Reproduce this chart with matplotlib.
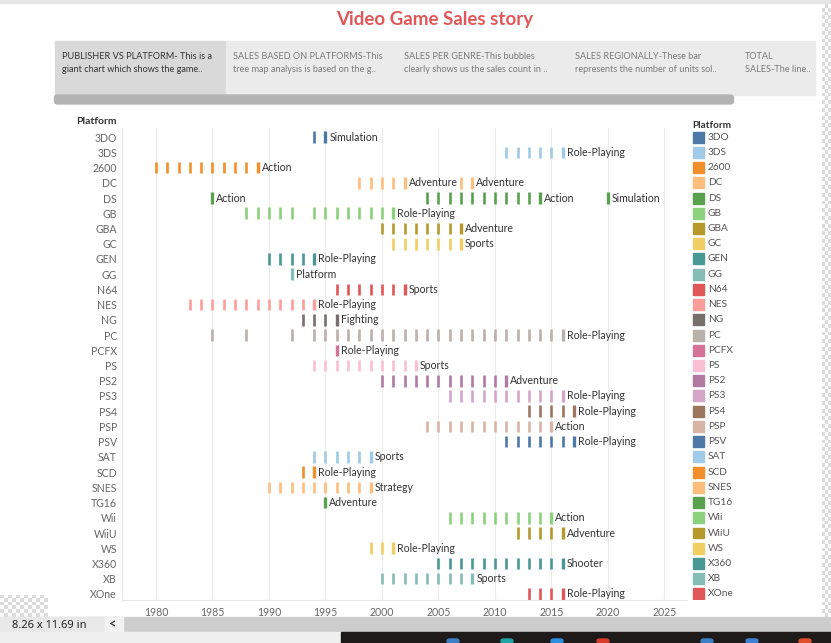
import matplotlib
matplotlib.use('Agg')
import matplotlib.pyplot as plt
from matplotlib.patches import Rectangle, FancyBboxPatch
import numpy as np

plt.rcParams['font.family'] = ['Lato', 'DejaVu Sans']

W, H = 831, 643

platforms = ['3DO', '3DS', '2600', 'DC', 'DS', 'GB', 'GBA', 'GC', 'GEN', 'GG', 'N64',
             'NES', 'NG', 'PC', 'PCFX', 'PS', 'PS2', 'PS3', 'PS4', 'PSP', 'PSV', 'SAT',
             'SCD', 'SNES', 'TG16', 'Wii', 'WiiU', 'WS', 'X360', 'XB', 'XOne']

years = [
    [1994, 1995],
    [2011, 2012, 2013, 2014, 2015, 2016],
    [1980, 1981, 1982, 1983, 1984, 1985, 1986, 1987, 1988, 1989],
    [1998, 1999, 2000, 2001, 2002, 2007, 2008],
    [1985, 2004, 2005, 2006, 2007, 2008, 2009, 2010, 2011, 2012, 2013, 2014, 2020],
    [1988, 1989, 1990, 1991, 1992, 1994, 1995, 1996, 1997, 1998, 1999, 2000, 2001],
    [2000, 2001, 2002, 2003, 2004, 2005, 2006, 2007],
    [2001, 2002, 2003, 2004, 2005, 2006, 2007],
    [1990, 1991, 1992, 1993, 1994],
    [1992],
    [1996, 1997, 1998, 1999, 2000, 2001, 2002],
    [1983, 1984, 1985, 1986, 1987, 1988, 1989, 1990, 1991, 1992, 1993, 1994],
    [1993, 1994, 1995, 1996],
    [1985, 1988, 1992, 1994, 1995, 1996, 1997, 1998, 1999, 2000, 2001, 2002, 2003,
     2004, 2005, 2006, 2007, 2008, 2009, 2010, 2011, 2012, 2013, 2014, 2015, 2016],
    [1996],
    [1994, 1995, 1996, 1997, 1998, 1999, 2000, 2001, 2002, 2003],
    [2000, 2001, 2002, 2003, 2004, 2005, 2006, 2007, 2008, 2009, 2010, 2011],
    [2006, 2007, 2008, 2009, 2010, 2011, 2012, 2013, 2014, 2015, 2016],
    [2013, 2014, 2015, 2016, 2017],
    [2004, 2005, 2006, 2007, 2008, 2009, 2010, 2011, 2012, 2013, 2014, 2015],
    [2011, 2012, 2013, 2014, 2015, 2016, 2017],
    [1994, 1995, 1996, 1997, 1998, 1999],
    [1993, 1994],
    [1990, 1991, 1992, 1993, 1994, 1995, 1996, 1997, 1998, 1999],
    [1995],
    [2006, 2007, 2008, 2009, 2010, 2011, 2012, 2013, 2014, 2015],
    [2012, 2013, 2014, 2015, 2016],
    [1999, 2000, 2001],
    [2005, 2006, 2007, 2008, 2009, 2010, 2011, 2012, 2013, 2014, 2015, 2016],
    [2000, 2001, 2002, 2003, 2004, 2005, 2006, 2007, 2008],
    [2013, 2014, 2015, 2016],
]

label_years = [
    [1995], [2016], [1989], [2002, 2008], [1985, 2014, 2020], [2001], [2007], [2007],
    [1994], [1992], [2002], [1994], [1996], [2016], [1996], [2003], [2011], [2016],
    [2017], [2015], [2017], [1999], [1994], [1999], [1995], [2015], [2016], [2001],
    [2016], [2008], [2016],
]
label_genres = [
    ['Simulation'], ['Role-Playing'], ['Action'], ['Adventure', 'Adventure'],
    ['Action', 'Action', 'Simulation'], ['Role-Playing'], ['Adventure'], ['Sports'],
    ['Role-Playing'], ['Platform'], ['Sports'], ['Role-Playing'], ['Fighting'],
    ['Role-Playing'], ['Role-Playing'], ['Sports'], ['Adventure'], ['Role-Playing'],
    ['Role-Playing'], ['Action'], ['Role-Playing'], ['Sports'], ['Role-Playing'],
    ['Strategy'], ['Adventure'], ['Action'], ['Adventure'], ['Role-Playing'],
    ['Shooter'], ['Sports'], ['Role-Playing'],
]

tab20 = ['#4e79a7', '#a0cbe8', '#f28e2b', '#ffbe7d', '#59a14f', '#8cd17d', '#b6992d',
         '#f1ce63', '#499894', '#86bcb6', '#e15759', '#ff9d9a', '#79706e', '#bab0ac',
         '#d37295', '#fabfd2', '#b07aa1', '#d4a6c8', '#9d7660', '#d7b5a6']
colors = [tab20[i % 20] for i in range(len(platforms))]

tab_titles = ['PUBLISHER VS PLATFORM- This is a\ngiant chart which shows the game..',
              'SALES BASED ON PLATFORMS-This\ntree map analysis is based on the g..',
              'SALES PER GENRE-This bubbles\nclearly shows us the sales count in ..',
              'SALES REGIONALLY-These bar\nrepresents the number of units sol..',
              'TOTAL\nSALES-The line..']
tab_edges = [55, 226, 397, 568, 738, 816]
x_ticks = [1980, 1985, 1990, 1995, 2000, 2005, 2010, 2015, 2020, 2025]


def fx(x):
    return x / W


def fy(y):
    return 1 - y / H


fig = plt.figure(figsize=(W / 100, H / 100), dpi=100)
fig.patch.set_facecolor('white')

# window chrome
fig.patches.append(Rectangle((0, fy(3)), 1, fy(0) - fy(3), transform=fig.transFigure,
                             color='#e6e6e6', zorder=0))
fig.text(fx(435), fy(19), 'Video Game Sales story', ha='center', va='center',
         fontsize=13.5, fontweight='bold', color='#e15759')

for k, t in enumerate(tab_titles):
    x0, x1 = tab_edges[k], tab_edges[k + 1]
    fc = '#d9d9d9' if k == 0 else '#ebebeb'
    fig.patches.append(Rectangle((fx(x0), fy(95)), fx(x1 - x0 - 1), fy(41) - fy(95),
                                 transform=fig.transFigure, color=fc, zorder=0))
    fig.text(fx(x0 + 7), fy(63), t, ha='left', va='center', fontsize=6.6,
             linespacing=1.7, color='#333333' if k == 0 else '#7a7a7a')

fig.patches.append(FancyBboxPatch((fx(57), fy(102)), fx(674), fy(97) - fy(102),
                                  boxstyle='round,pad=0.003,rounding_size=0.004',
                                  transform=fig.transFigure, color='#b3b3b3', zorder=0))

# main chart
ax = fig.add_axes([fx(122), fy(600), fx(687 - 122), fy(128) - fy(600)])
for i, yrs in enumerate(years):
    ends = label_years[i]
    reg = [y for y in yrs if y not in ends]
    ax.vlines(reg, i - 0.38, i + 0.38, color=colors[i], lw=1.9)
    ax.vlines(ends, i - 0.38, i + 0.38, color=colors[i], lw=2.4)
    for yr, g in zip(ends, label_genres[i]):
        ax.annotate(g, (yr, i), xytext=(4, 0), textcoords='offset pixels',
                    ha='left', va='center', fontsize=7.6, color='#333333')

ax.set_xlim(1977, 2027)
ax.set_ylim(30.4, -0.6)
ax.set_xticks(x_ticks)
ax.set_yticks(range(len(platforms)))
ax.set_yticklabels(platforms)
ax.grid(axis='x', color='#ebebeb', lw=0.8)
ax.set_axisbelow(True)
ax.tick_params(axis='both', length=0, labelsize=7.6, colors='#666666')
ax.tick_params(axis='x', pad=5)
ax.tick_params(axis='y', pad=3.6)
for s in ['top', 'right']:
    ax.spines[s].set_visible(False)
for s in ['left', 'bottom']:
    ax.spines[s].set_color('#e6e6e6')
fig.text(fx(117), fy(121), 'Platform', ha='right', va='center', fontsize=7.5,
         fontweight='bold', color='#333333')

# legend
lg = fig.add_axes([fx(690), fy(600), fx(130), fy(128) - fy(600)])
lg.set_xlim(0, 130)
lg.set_ylim(30.4, -0.6)
for i, p in enumerate(platforms):
    lg.add_patch(Rectangle((3, i - 0.36), 11, 0.72, color=colors[i]))
    lg.text(18, i, p, ha='left', va='center', fontsize=7.3, color='#555555')
lg.axis('off')
fig.text(fx(692), fy(125), 'Platform', ha='left', va='center', fontsize=7.2,
         fontweight='bold', color='#333333')

# transparent checker strips
chk = (np.indices((160, 3)).sum(axis=0) % 2)
cx = fig.add_axes([fx(822), fy(617), fx(9), fy(0) - fy(617)])
cx.imshow(chk, cmap='gray', vmin=-6, vmax=1, aspect='auto', interpolation='nearest')
cx.axis('off')
chk2 = (np.indices((6, 12)).sum(axis=0) % 2)
cx2 = fig.add_axes([fx(0), fy(617), fx(48), fy(595) - fy(617)])
cx2.imshow(chk2, cmap='gray', vmin=-6, vmax=1, aspect='auto', interpolation='nearest')
cx2.axis('off')

# bottom status bar and taskbar
fig.patches.append(Rectangle((0, fy(632)), 1, fy(617) - fy(632), transform=fig.transFigure,
                             color='#cdcdcd', zorder=0))
fig.patches.append(Rectangle((0, fy(632)), fx(105), fy(617) - fy(632),
                             transform=fig.transFigure, color='#e8e8e8', zorder=0))
fig.patches.append(Rectangle((fx(105), fy(632)), fx(18), fy(617) - fy(632),
                             transform=fig.transFigure, color='#f2f2f2', zorder=0))
fig.text(fx(12), fy(625), '8.26 x 11.69 in', ha='left', va='center', fontsize=8,
         color='#222222', family=['Noto Sans', 'DejaVu Sans'])
fig.text(fx(113), fy(624), '<', ha='center', va='center', fontsize=9,
         fontweight='bold', color='#333333')
fig.patches.append(Rectangle((0, 0), fx(341), fy(632), transform=fig.transFigure,
                             color='#f0f0f0', zorder=0))
fig.patches.append(Rectangle((fx(341), 0), 1 - fx(341), fy(632), transform=fig.transFigure,
                             color='#1e1a1a', zorder=0))
for ix, c in [(453, '#3b7fc4'), (507, '#1fa5a5'), (557, '#2d8fe0'), (603, '#d93b2b'),
              (707, '#3b7fc4'), (752, '#3d82d6'), (805, '#e0502a')]:
    fig.patches.append(FancyBboxPatch((fx(ix - 6), 0), fx(12), fy(639),
                                      boxstyle='round,pad=0,rounding_size=0.003',
                                      transform=fig.transFigure, color=c, zorder=1))

fig.savefig('out.png', dpi=100)
plt.close()
